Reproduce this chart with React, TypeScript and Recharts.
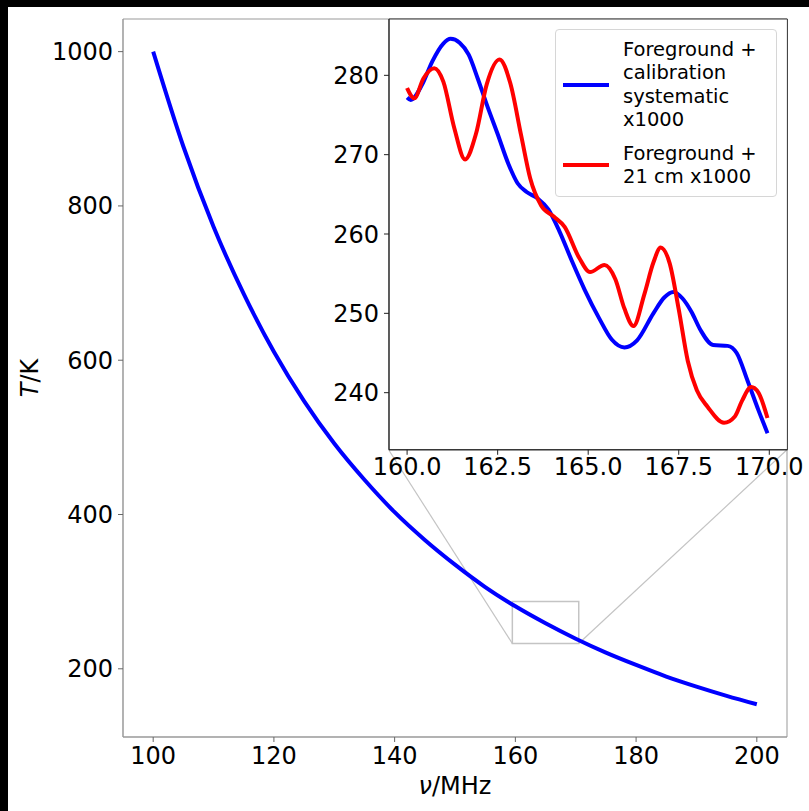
import React from 'react';
import { LineChart, Line, XAxis, YAxis, ReferenceArea, ReferenceLine, CartesianGrid, Legend } from 'recharts';

// main panel: sky temperature vs frequency
const freqMain = [100, 105, 110, 115, 120, 125, 130, 135, 140, 145, 150, 155, 160, 165, 170, 175, 180, 185, 190, 195, 200];
const tempMain = [1000, 877, 773, 686, 611, 547, 492, 445, 403, 367, 335, 306, 281, 259, 239, 221, 205, 190, 177, 165, 154];
const mainXTicks = [100, 120, 140, 160, 180, 200];
const mainYTicks = [200, 400, 600, 800, 1000];

// inset: foreground + calibration systematic x1000
const freqBlue = [160.0, 160.1, 160.4, 160.7, 161.0, 161.2, 161.45, 161.7, 161.95, 162.2, 162.5, 162.8, 163.05, 163.3, 163.6, 163.9, 164.2, 164.55, 164.9, 165.3, 165.65, 166.0, 166.35, 166.8, 167.1, 167.35, 167.6, 167.85, 168.1, 168.45, 168.85, 169.1, 169.4, 169.7, 169.95];
const tempBlue = [277.2, 276.9, 278.7, 281.8, 284.0, 284.6, 284.1, 282.6, 279.6, 276.3, 272.6, 268.8, 266.4, 265.3, 264.5, 263.1, 260.4, 256.6, 253.0, 249.4, 246.7, 245.7, 246.6, 250.0, 252.0, 252.7, 251.9, 250.2, 247.9, 246.0, 245.9, 245.0, 241.5, 237.8, 234.9];

// inset: foreground + 21 cm x1000
const freqRed = [160.0, 160.2, 160.45, 160.75, 161.0, 161.3, 161.6, 161.9, 162.2, 162.55, 162.85, 163.15, 163.4, 163.7, 164.05, 164.35, 164.75, 165.05, 165.45, 165.75, 166.0, 166.25, 166.55, 166.8, 167.0, 167.25, 167.5, 167.75, 168.0, 168.3, 168.75, 169.05, 169.25, 169.5, 169.7, 169.95];
const tempRed = [278.4, 277.1, 279.6, 280.9, 279.2, 273.4, 269.4, 272.6, 278.9, 282.0, 279.0, 272.4, 267.0, 263.6, 262.2, 260.9, 257.0, 255.2, 256.1, 254.3, 250.6, 248.4, 252.4, 256.4, 258.3, 256.3, 250.5, 244.0, 240.3, 238.2, 236.2, 237.0, 239.0, 240.7, 240.0, 236.8];
const insetXTicks = [160, 162.5, 165, 167.5, 170];
const insetYTicks = [240, 250, 260, 270, 280];

const seriesNames = ['Foreground +\ncalibration\nsystematic\nx1000', 'Foreground +\n21 cm x1000'];

const mainData = freqMain.map((f, i) => ({ f, t: tempMain[i] }));
const blueData = freqBlue.map((f, i) => ({ f, t: tempBlue[i] }));
const redData = freqRed.map((f, i) => ({ f, t: tempRed[i] }));

const FONT = 'DejaVu Sans';
const MAIN_X = [95, 205];
const MAIN_Y = [111.6, 1042.3];
const INSET_X = [159.5, 170.5];
const INSET_Y = [232.8, 287.1];
const FRAC = 0.4; // inset sits in the upper-right 60% of the main axes

const W = 801;
const H = 804;
const M = { top: 12, right: 22, bottom: 34, left: 45 };
const plotW = W - M.left - 70 - M.right;
const plotH = H - M.top - 40 - M.bottom;
const plotL = M.left + 70;

const insetL = plotL + FRAC * plotW;
const insetW = (1 - FRAC) * plotW;
const insetH = (1 - FRAC) * plotH;

const cornerX = MAIN_X[0] + FRAC * (MAIN_X[1] - MAIN_X[0]);
const cornerY = MAIN_Y[0] + FRAC * (MAIN_Y[1] - MAIN_Y[0]);

const tick = { fontFamily: FONT, fontSize: 24, fill: '#000' };

const renderLegend = (props: any) => {
  const items = [...(props.payload || [])].sort(
    (a: any, b: any) => seriesNames.indexOf(a.value) - seriesNames.indexOf(b.value)
  );
  return (
    <div style={{ width: 222, boxSizing: 'border-box', border: '1px solid #d6d6d6', borderRadius: 4, background: 'rgba(255,255,255,0.85)', padding: '8px 7px', fontFamily: FONT, fontSize: 19.5, lineHeight: '23.4px', color: '#000' }}>
      {items.map((e: any, i: number) => (
        <div key={i} style={{ display: 'flex', alignItems: 'center', marginTop: i ? 10 : 0 }}>
          <div style={{ width: 46, height: 4, background: e.color, marginRight: 14, flexShrink: 0 }} />
          <div style={{ whiteSpace: 'pre-line', textAlign: 'left' }}>{e.value}</div>
        </div>
      ))}
    </div>
  );
};

export default function App() {
  return (
    <div style={{ position: 'fixed', inset: 0, background: '#000' }}>
      <div style={{ position: 'absolute', left: 8, top: 7, width: W, height: H, background: '#fff' }}>
        <LineChart width={W} height={H} data={mainData} margin={M}>
          <XAxis
            dataKey="f"
            type="number"
            domain={MAIN_X}
            ticks={mainXTicks}
            height={40}
            tick={tick}
            tickSize={5}
            tickMargin={5}
            axisLine={{ stroke: '#999' }}
            tickLine={{ stroke: '#666' }}
            label={(p: any) => (
              <text x={p.viewBox.x + p.viewBox.width / 2} y={p.viewBox.y + 57} textAnchor="middle" fontFamily={FONT} fontSize={24} fill="#000">
                <tspan fontStyle="italic">ν</tspan>/MHz
              </text>
            )}
          />
          <YAxis
            type="number"
            domain={MAIN_Y}
            ticks={mainYTicks}
            width={70}
            tick={tick}
            tickSize={5}
            tickMargin={5}
            axisLine={{ stroke: '#999' }}
            tickLine={{ stroke: '#666' }}
            label={(p: any) => (
              <text x={22} y={p.viewBox.y + p.viewBox.height / 2} transform={`rotate(-90 22 ${p.viewBox.y + p.viewBox.height / 2})`} textAnchor="middle" dominantBaseline="central" fontFamily={FONT} fontSize={24} fill="#000">
                <tspan fontStyle="italic">T</tspan>/K
              </text>
            )}
          />
          <ReferenceArea x1={MAIN_X[0]} x2={MAIN_X[1]} y1={MAIN_Y[0]} y2={MAIN_Y[1]} fill="none" stroke="#999" strokeWidth={1} />
          <ReferenceArea x1={INSET_X[0]} x2={INSET_X[1]} y1={INSET_Y[0]} y2={INSET_Y[1]} fill="none" stroke="#c4c4c4" strokeWidth={1.5} />
          <ReferenceLine segment={[{ x: INSET_X[0], y: INSET_Y[0] }, { x: cornerX, y: cornerY }]} stroke="#c4c4c4" strokeWidth={1.2} />
          <ReferenceLine segment={[{ x: INSET_X[1], y: INSET_Y[0] }, { x: MAIN_X[1], y: cornerY }]} stroke="#c4c4c4" strokeWidth={1.2} />
          <Line dataKey="t" type="monotone" stroke="#0000ff" strokeWidth={4} dot={false} isAnimationActive={false} />
        </LineChart>

        <div style={{ position: 'absolute', left: insetL - 60, top: M.top - 10 }}>
          <LineChart width={60 + insetW + 20} height={10 + insetH + 40} margin={{ top: 10, right: 20, bottom: 0, left: 0 }}>
            <CartesianGrid fill="#fff" horizontal={false} vertical={false} />
            <XAxis
              dataKey="f"
              type="number"
              domain={INSET_X}
              ticks={insetXTicks}
              height={40}
              tick={tick}
              tickSize={5}
              tickMargin={3}
              tickFormatter={(v: number) => v.toFixed(1)}
              axisLine={{ stroke: '#222' }}
              tickLine={{ stroke: '#222' }}
              allowDuplicatedCategory={false}
            />
            <YAxis
              type="number"
              domain={INSET_Y}
              ticks={insetYTicks}
              width={60}
              tick={tick}
              tickSize={5}
              tickMargin={5}
              axisLine={{ stroke: '#222' }}
              tickLine={{ stroke: '#222' }}
            />
            <ReferenceArea x1={INSET_X[0]} x2={INSET_X[1]} y1={INSET_Y[0]} y2={INSET_Y[1]} fill="none" stroke="#333" strokeWidth={1} />
            <Line data={blueData} dataKey="t" name={seriesNames[0]} type="monotone" stroke="#0000ff" strokeWidth={4} dot={false} isAnimationActive={false} />
            <Line data={redData} dataKey="t" name={seriesNames[1]} type="monotone" stroke="#ff0000" strokeWidth={4} dot={false} isAnimationActive={false} />
            <Legend
              layout="horizontal"
              verticalAlign="middle"
              align="center"
              content={renderLegend}
              wrapperStyle={{ position: 'absolute', left: 60 + insetW - 232, top: 20, width: 222, height: 'auto' }}
            />
          </LineChart>
        </div>
      </div>
    </div>
  );
}
